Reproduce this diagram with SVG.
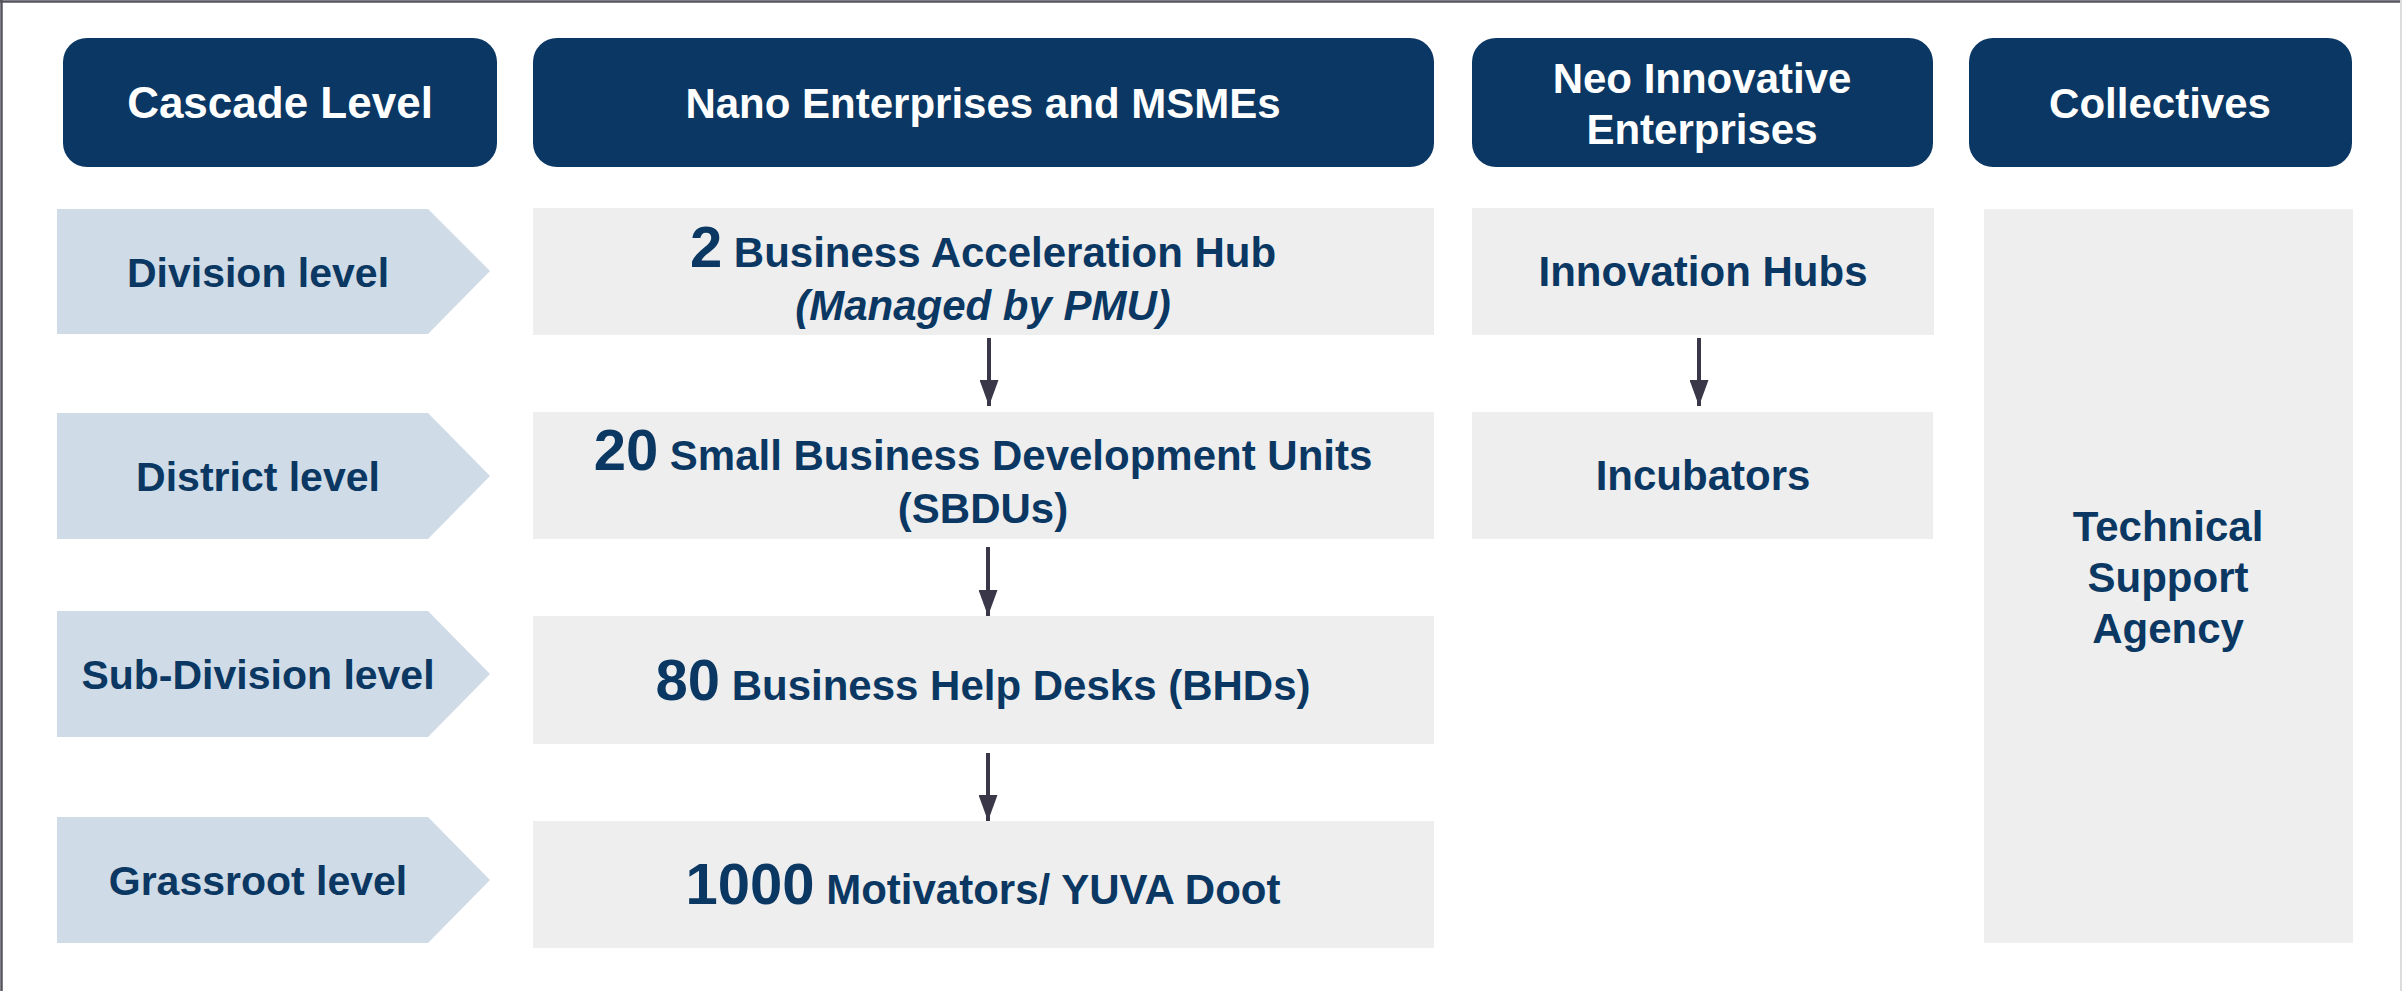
<svg xmlns="http://www.w3.org/2000/svg" width="2402" height="991" viewBox="0 0 2402 991">
<style>
.hdr{fill:#0a3763}
.box{fill:#eeeeee}
.lvl{fill:#cfdbe6}
.ht{font-family:"Liberation Sans",Arial,sans-serif;font-weight:bold;fill:#ffffff;text-anchor:middle}
.t{font-family:"Liberation Sans",Arial,sans-serif;font-weight:bold;fill:#0b3763;text-anchor:middle}
.conn{stroke:#3a3848;stroke-width:4;fill:none}
</style>
<defs>
<marker id="ah" markerUnits="userSpaceOnUse" markerWidth="26" markerHeight="19" refX="26" refY="9.5" orient="auto" viewBox="0 0 26 19">
<path d="M0,0 L26,9.5 L0,19 Z" fill="#3a3848"/>
</marker>
</defs>
<rect width="2402" height="991" fill="#ffffff"/>
<line x1="0" y1="1.5" x2="2402" y2="1.5" stroke="#55545e" stroke-width="2.5"/>
<line x1="1.5" y1="0" x2="1.5" y2="991" stroke="#55545e" stroke-width="2.5"/>
<line x1="2401" y1="0" x2="2401" y2="991" stroke="#dcdcdc" stroke-width="2"/>

<g id="hdr-cascade"><rect class="hdr" x="63" y="38" width="434" height="129" rx="24"/><text class="ht" x="280" y="118" font-size="44">Cascade Level</text></g>
<g id="hdr-nano"><rect class="hdr" x="533" y="38" width="901" height="129" rx="24"/><text class="ht" x="983" y="118" font-size="42">Nano Enterprises and MSMEs</text></g>
<g id="hdr-neo"><rect class="hdr" x="1472" y="38" width="461" height="129" rx="24"/><text class="ht" x="1702" y="93" font-size="42">Neo Innovative</text><text class="ht" x="1702" y="144" font-size="42">Enterprises</text></g>
<g id="hdr-coll"><rect class="hdr" x="1969" y="38" width="383" height="129" rx="24"/><text class="ht" x="2160" y="118" font-size="42">Collectives</text></g>

<g id="lvl-division"><polygon class="lvl" points="57,209 428,209 490,271 428,334 57,334"/><text class="t" x="258" y="287" font-size="41">Division level</text></g>
<g id="lvl-district"><polygon class="lvl" points="57,413 428,413 490,476 428,539 57,539"/><text class="t" x="258" y="491" font-size="41">District level</text></g>
<g id="lvl-subdivision"><polygon class="lvl" points="57,611 428,611 490,674 428,737 57,737"/><text class="t" x="258" y="689" font-size="41">Sub-Division level</text></g>
<g id="lvl-grassroot"><polygon class="lvl" points="57,817 428,817 490,880 428,943 57,943"/><text class="t" x="258" y="895" font-size="41">Grassroot level</text></g>

<g id="bah"><rect class="box" x="533" y="208" width="901" height="127"/><text class="t" x="983" y="267" font-size="42"><tspan font-size="58">2</tspan> Business Acceleration Hub</text><text class="t" x="983" y="320" font-size="42" font-style="italic">(Managed by PMU)</text></g>
<g id="sbdu"><rect class="box" x="533" y="412" width="901" height="127"/><text class="t" x="983" y="470" font-size="42"><tspan font-size="58">20</tspan> Small Business Development Units</text><text class="t" x="983" y="523" font-size="42">(SBDUs)</text></g>
<g id="bhd"><rect class="box" x="533" y="616" width="901" height="128"/><text class="t" x="983" y="700" font-size="42"><tspan font-size="58">80</tspan> Business Help Desks (BHDs)</text></g>
<g id="motivators"><rect class="box" x="533" y="821" width="901" height="127"/><text class="t" x="983" y="904" font-size="42"><tspan font-size="58">1000</tspan> Motivators/ YUVA Doot</text></g>

<g id="innovation-hubs"><rect class="box" x="1472" y="208" width="462" height="127"/><text class="t" x="1703" y="286" font-size="42">Innovation Hubs</text></g>
<g id="incubators"><rect class="box" x="1472" y="412" width="461" height="127"/><text class="t" x="1703" y="490" font-size="42">Incubators</text></g>
<g id="tsa"><rect class="box" x="1984" y="209" width="369" height="734"/><text class="t" x="2168" y="541" font-size="42">Technical</text><text class="t" x="2168" y="592" font-size="42">Support</text><text class="t" x="2168" y="643" font-size="42">Agency</text></g>

<g id="connectors">
<line class="conn" x1="989" y1="338" x2="989" y2="406" marker-end="url(#ah)"/>
<line class="conn" x1="988" y1="547" x2="988" y2="616" marker-end="url(#ah)"/>
<line class="conn" x1="988" y1="753" x2="988" y2="821" marker-end="url(#ah)"/>
<line class="conn" x1="1699" y1="338" x2="1699" y2="406" marker-end="url(#ah)"/>
</g>
</svg>
